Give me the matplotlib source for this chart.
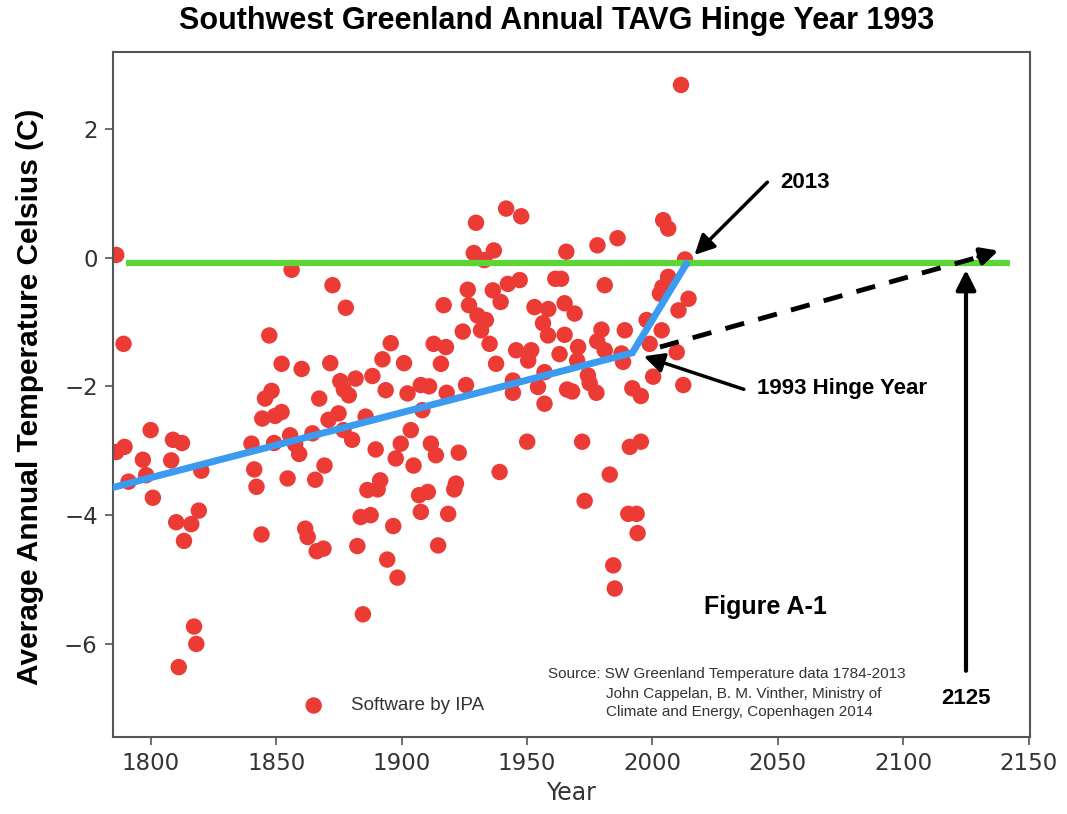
"""
Southwest Greenland annual TAVG with hinge line at 1993
"""
# import packages
import matplotlib
matplotlib.use('Agg')
import matplotlib.pyplot as plt


# ###
# 1.Data
# ###
YEARS = [
    1786.3, 1856.2, 1872.5, 1877.8, 1789.2, 1847.3, 1852.2, 1860.2, 1871.6, 1875.6,
    1848.2, 1845.6, 1867.2, 1877.0,
    1789.6, 1786.3, 1800.0, 1796.9, 1798.2, 1791.2, 1800.9, 1808.9, 1812.5, 1808.2,
    1820.2, 1810.2, 1816.2, 1819.2, 1813.3, 1817.3, 1818.2, 1811.2,
    1844.5, 1852.2, 1849.6, 1840.2, 1841.3, 1842.2, 1849.2, 1855.6, 1859.2, 1857.6,
    1854.6, 1864.5, 1865.6, 1869.3, 1870.9, 1874.9, 1876.9,
    1844.2, 1861.6, 1862.6, 1866.2, 1868.9,
    1929.7, 1941.7, 1947.7, 1928.8, 1936.8, 1933.0, 1965.7, 1926.4, 1936.4, 1942.4,
    1947.1, 1939.5, 1961.3, 1963.6, 1916.8, 1926.9, 1930.3, 1933.6, 1953.0, 1958.5,
    1965.0, 1924.4, 1931.7, 1935.1, 1956.4, 1958.4, 1965.0, 1895.7, 1892.4, 1901.0,
    1912.8, 1917.7, 1915.7, 1937.7, 1945.7, 1951.7, 1950.5, 1957.0, 1963.0,
    1881.7, 1888.4, 1893.7, 1902.4, 1907.7, 1911.0, 1918.0, 1925.7, 1944.4, 1944.4,
    1954.4, 1966.0,
    1879.0, 1908.3, 1885.7, 1957.0, 1880.3, 1889.7, 1903.7, 1899.7, 1897.7, 1904.8,
    1911.7, 1913.7, 1922.8, 1950.1, 1939.1, 1891.5, 1886.4, 1890.5, 1907.0, 1910.5,
    1907.7, 1921.7, 1921.0, 1883.7, 1887.7, 1896.7, 1918.6, 1882.4, 1914.6, 1894.3,
    1898.4, 1884.6,
    2011.4, 2004.3, 2006.3, 1978.1, 1986.1, 2013.0, 1981.0, 2003.0, 2006.3, 2014.4,
    1969.0, 2010.4, 1997.7, 2003.7, 1979.7, 1989.0, 1970.4, 1978.0, 1981.0, 1987.7,
    1998.9, 2009.7, 1970.0, 1988.3, 1974.3, 2000.3, 2012.3, 1968.0, 1977.7, 1992.0,
    1995.4, 2004.0,
    1975.0, 1972.0, 1991.0, 1995.4, 1983.0, 1973.0, 1990.4, 1993.7, 1994.1, 1984.4,
    1985.0,
]
TAVG = [
    0.04, -0.19, -0.43, -0.78, -1.34, -1.21, -1.65, -1.73, -1.64, -1.92,
    -2.07, -2.19, -2.19, -2.05,
    -2.94, -3.02, -2.68, -3.14, -3.38, -3.48, -3.73, -2.83, -2.88, -3.15,
    -3.31, -4.11, -4.14, -3.93, -4.40, -5.73, -6.00, -6.36,
    -2.50, -2.40, -2.46, -2.89, -3.29, -3.56, -2.88, -2.76, -3.05, -2.90,
    -3.43, -2.73, -3.45, -3.23, -2.52, -2.42, -2.68,
    -4.30, -4.21, -4.34, -4.56, -4.52,
    0.54, 0.76, 0.64, 0.07, 0.11, -0.04, 0.09, -0.50, -0.51, -0.41,
    -0.35, -0.69, -0.33, -0.33, -0.74, -0.74, -0.90, -0.97, -0.77, -0.80,
    -0.71, -1.15, -1.13, -1.34, -1.02, -1.21, -1.20, -1.33, -1.58, -1.64,
    -1.34, -1.39, -1.65, -1.65, -1.44, -1.44, -1.60, -1.78, -1.50,
    -1.88, -1.84, -2.06, -2.11, -1.98, -2.00, -2.10, -1.98, -1.91, -2.10,
    -2.01, -2.05,
    -2.14, -2.37, -2.47, -2.27, -2.83, -2.98, -2.68, -2.89, -3.12, -3.23,
    -2.89, -3.07, -3.03, -2.86, -3.33, -3.46, -3.61, -3.60, -3.69, -3.64,
    -3.95, -3.51, -3.60, -4.03, -4.00, -4.17, -3.98, -4.48, -4.47, -4.69,
    -4.97, -5.54,
    2.68, 0.58, 0.45, 0.19, 0.30, -0.03, -0.43, -0.56, -0.30, -0.64,
    -0.87, -0.82, -0.97, -1.13, -1.12, -1.13, -1.39, -1.30, -1.44, -1.49,
    -1.34, -1.47, -1.60, -1.62, -1.83, -1.85, -1.98, -2.08, -2.10, -2.03,
    -2.15, -0.46,
    -1.95, -2.86, -2.94, -2.86, -3.37, -3.78, -3.98, -3.98, -4.28, -4.78,
    -5.14,
]

# hinge fit and reference line
HINGE_X = [1784, 1992, 2013.5]
HINGE_Y = [-3.58, -1.48, -0.10]
LEVEL_X = [1790, 2142.5]
LEVEL_Y = [-0.08, -0.08]
TREND_X = [2003, 2133]
TREND_Y = [-1.39, 0.04]

# figure variables
COLOR_DOT   = '#EC3A35'
COLOR_HINGE = '#3A9BF0'
COLOR_LEVEL = '#5CD636'
COLOR_TEXT  = '#333333'
BOLD_FONT   = ['Liberation Sans', 'DejaVu Sans']
PLOT_X_SIZE = 10.67
PLOT_Y_SIZE = 8.14
PLOT_DPI    = 100


def draw_figure(image_path):
    fig = plt.figure(figsize=(PLOT_X_SIZE, PLOT_Y_SIZE), dpi=PLOT_DPI, facecolor='w')
    axes = fig.add_axes([0.1059, 0.095, 0.8594, 0.841])

    # data and fitted lines
    axes.scatter(YEARS, TAVG, s=140, color=COLOR_DOT, edgecolors='none', zorder=2,
                 label='Software by IPA')
    axes.plot(LEVEL_X, LEVEL_Y, color=COLOR_LEVEL, linewidth=4.5, solid_capstyle='butt', zorder=3)
    axes.plot(HINGE_X, HINGE_Y, color=COLOR_HINGE, linewidth=5, solid_joinstyle='miter', zorder=4)

    # dashed projection to 2125
    axes.plot(TREND_X, TREND_Y, color='black', linewidth=3.5, linestyle=(0, (4, 3)), zorder=5)
    axes.annotate('', xy=(2139, 0.12), xytext=(2129, 0.0),
                  arrowprops=dict(arrowstyle='-|>', color='black', lw=3.5, mutation_scale=25), zorder=5)
    axes.annotate('', xy=(2125, -0.15), xytext=(2125, -6.46),
                  arrowprops=dict(arrowstyle='-|>', color='black', lw=3, mutation_scale=30), zorder=5)
    axes.text(2125, -6.84, '2125', ha='center', va='center', fontsize=16,
              fontweight='bold', family=BOLD_FONT)

    # 2013 and hinge arrows
    axes.annotate('', xy=(2016, 0.01), xytext=(2046.6, 1.20),
                  arrowprops=dict(arrowstyle='-|>', color='black', lw=2.5, mutation_scale=30), zorder=5)
    axes.text(2051, 1.17, '2013', ha='left', va='center', fontsize=16,
              fontweight='bold', family=BOLD_FONT)
    axes.annotate('', xy=(1995.5, -1.52), xytext=(2037.5, -2.06),
                  arrowprops=dict(arrowstyle='-|>', color='black', lw=2.5, mutation_scale=30), zorder=5)
    axes.text(2041.5, -2.04, '1993 Hinge Year', ha='left', va='center', fontsize=16,
              fontweight='bold', family=BOLD_FONT)

    axes.text(2045.2, -5.42, 'Figure A-1', ha='center', va='center', fontsize=18,
              fontweight='bold', family=BOLD_FONT)

    # source note
    axes.text(1958.2, -6.47, 'Source: SW Greenland Temperature data 1784-2013',
              ha='left', va='center', fontsize=11, color=COLOR_TEXT, family=BOLD_FONT)
    axes.text(1981.5, -6.78, 'John Cappelan, B. M. Vinther, Ministry of',
              ha='left', va='center', fontsize=11, color=COLOR_TEXT, family=BOLD_FONT)
    axes.text(1981.5, -7.06, 'Climate and Energy, Copenhagen 2014',
              ha='left', va='center', fontsize=11, color=COLOR_TEXT, family=BOLD_FONT)

    # figure setting
    axes.set_xlim(1785, 2150.5)
    axes.set_ylim(-7.44, 3.19)
    axes.set_xticks([1800, 1850, 1900, 1950, 2000, 2050, 2100, 2150])
    axes.set_yticks([-6, -4, -2, 0, 2])
    axes.tick_params(axis='both', which='major', labelsize=16.5, labelcolor=COLOR_TEXT,
                     length=6, width=1.2, color='#555555', pad=5)
    for spine in axes.spines.values():
        spine.set_color('#555555')
        spine.set_linewidth(1.5)
    axes.set_xlabel('Year', fontsize=17, color=COLOR_TEXT, labelpad=4)
    axes.legend(loc='center left', bbox_to_anchor=(0.18, 0.045), frameon=False,
                prop={'family': BOLD_FONT, 'size': 13.5}, labelcolor=COLOR_TEXT,
                handletextpad=1.0)

    fig.text(557 / 1067, 0.974, 'Southwest Greenland Annual TAVG Hinge Year 1993',
             ha='center', va='center', fontsize=22, fontweight='bold', family=BOLD_FONT)
    fig.text(0.028, 0.512, 'Average Annual Temperature Celsius (C)', rotation=90,
             ha='center', va='center', fontsize=21.5, fontweight='bold', family=BOLD_FONT)

    fig.savefig(image_path, dpi=PLOT_DPI)
    plt.close(fig)


if __name__ == '__main__':
    draw_figure('out.png')
